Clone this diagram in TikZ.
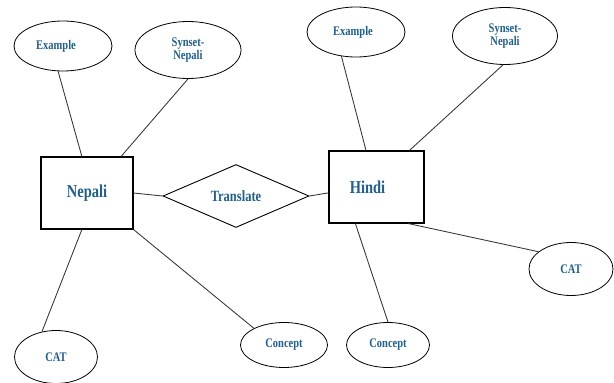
\documentclass[tikz,border=0pt]{standalone}
\usepackage{fontspec}
\setmainfont{Liberation Serif}
\usepackage{graphicx}
\usepackage{xcolor}
\usetikzlibrary{shapes.geometric}
\definecolor{erText}{HTML}{1F5F8F}
\definecolor{erLine}{HTML}{333333}

\newcommand{\tallText}[1]{\scalebox{1}[1.25]{#1}}
\newcommand{\twoLines}[2]{\tallText{\begin{tabular}{@{}c@{}}#1\\[-1pt]#2\end{tabular}}}

\tikzset{
    entity/.style={draw, line width=1.1pt, inner sep=0pt, text=erText,
        font=\fontsize{14.5}{16}\selectfont\bfseries},
    attrib/.style={draw, ellipse, line width=0.8pt, inner sep=0pt, align=center,
        text=erText, font=\fontsize{10.5}{11}\selectfont\bfseries},
    relation/.style={draw, diamond, line width=0.9pt, inner sep=0pt, text=erText,
        font=\fontsize{12.5}{14}\selectfont\bfseries},
    link/.style={erLine, line width=0.85pt}
}

\begin{document}
\begin{tikzpicture}[x=1pt, y=-1pt]
    \useasboundingbox (0, 0) rectangle (614, 383);

    % entities and relation
    \node[entity, minimum width=92pt, minimum height=72pt] (nep) at (87, 193) {\tallText{Nepali}};
    \node[entity, minimum width=95pt, minimum height=72pt] (hin) at (376.5, 187) {\tallText{Hindi}\hspace*{18pt}};
    \node[relation, minimum width=146pt, minimum height=63pt, aspect=2.32] (tr) at (236, 196) {\tallText{Translate}};

    % attributes of Nepali
    \node[attrib, minimum width=98pt, minimum height=50pt] (nepEx) at (63, 46) {\tallText{Example}\hspace*{14pt}};
    \node[attrib, minimum width=106pt, minimum height=57pt] (nepSyn) at (188, 50) {\twoLines{Synset-}{Nepali}};
    \node[attrib, minimum width=83pt, minimum height=53pt] (nepCat) at (56, 357) {\tallText{CAT}};
    \node[attrib, minimum width=87pt, minimum height=45pt] (nepCon) at (284, 345) {\tallText{Concept}};

    % attributes of Hindi
    \node[attrib, minimum width=98pt, minimum height=50pt] (hinEx) at (356, 32) {\tallText{Example}\hspace*{6pt}};
    \node[attrib, minimum width=105pt, minimum height=57pt] (hinSyn) at (505, 36) {\twoLines{Synset-}{Nepali}};
    \node[attrib, minimum width=84pt, minimum height=53pt] (hinCat) at (571, 269) {\tallText{CAT}};
    \node[attrib, minimum width=83pt, minimum height=45pt] (hinCon) at (388, 345) {\tallText{Concept}};

    % connectors
    \draw[link] (nep.east) -- (tr.west);
    \draw[link] (tr.east) -- (hin.187);

    \draw[link] (nepEx.-101) -- (nep.98);
    \draw[link] (nepSyn.-90) -- (nep.47.5);
    \draw[link] (nepCat.119) -- (nep.-98);
    \draw[link] (nepCon.151) -- (nep.south east);

    \draw[link] (hinEx.-121) -- (hin.106);
    \draw[link] (hinSyn.-94) -- (hin.48.8);
    \draw[link] (hinCat.152) -- (hin.-49.7);
    \draw[link] (hinCon.90) -- (hin.-120.8);
\end{tikzpicture}
\end{document}
